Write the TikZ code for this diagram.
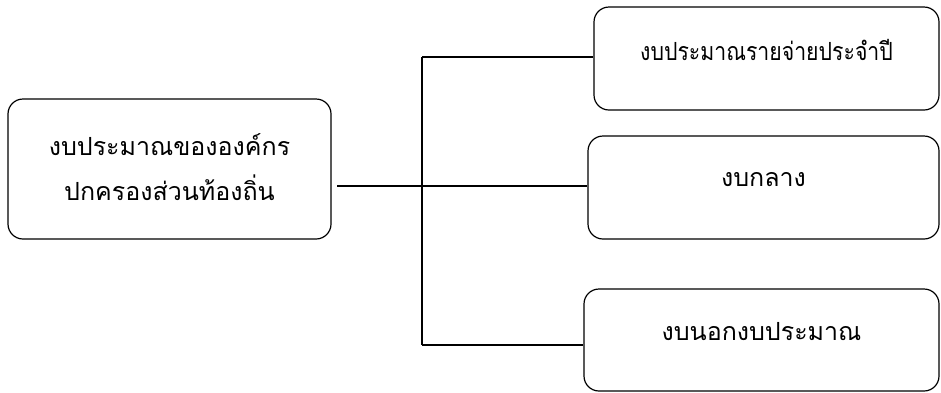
\documentclass[tikz,border=0pt]{standalone}
\usepackage{fontspec}
\newfontfamily\thaifont[Script=Thai]{Loma}
\newfontfamily\thaicond[Script=Thai,FakeStretch=0.85]{Loma}
\tikzset{
  box/.style={draw, line width=1.2pt, rounded corners=15pt, inner sep=0pt, align=center, font=\thaifont\fontsize{25}{45}\selectfont},
  condbox/.style={box, font=\thaicond\fontsize{25}{45}\selectfont},
  link/.style={draw, line width=1.2pt},
}
\begin{document}
\begin{tikzpicture}[x=1pt,y=-1pt]
\useasboundingbox (0,0) rectangle (941,392);
\node[box, minimum width=323pt, minimum height=140pt, text depth=4pt] (root) at (169.5,169) {งบประมาณขององค์กร\\ปกครองส่วนท้องถิ่น};
\node[condbox, minimum width=345pt, minimum height=103pt, text depth=17pt] (top) at (766.5,58.5) {งบประมาณรายจ่ายประจำปี};
\node[box, minimum width=351pt, minimum height=103pt, text depth=17pt] (mid) at (763.5,187.5) {งบกลาง};
\node[box, minimum width=355pt, minimum height=102pt, text depth=17pt] (bot) at (761.5,340) {งบนอกงบประมาณ};
\coordinate (s) at (337,186);
\coordinate (jt) at (422,57);
\coordinate (jb) at (422,345);
\draw[link] (s) -- (s -| mid.west);
\draw[link] (jt) -- (jb);
\draw[link] (jt) -- (jt -| top.west);
\draw[link] (jb) -- (jb -| bot.west);
\end{tikzpicture}
\end{document}
